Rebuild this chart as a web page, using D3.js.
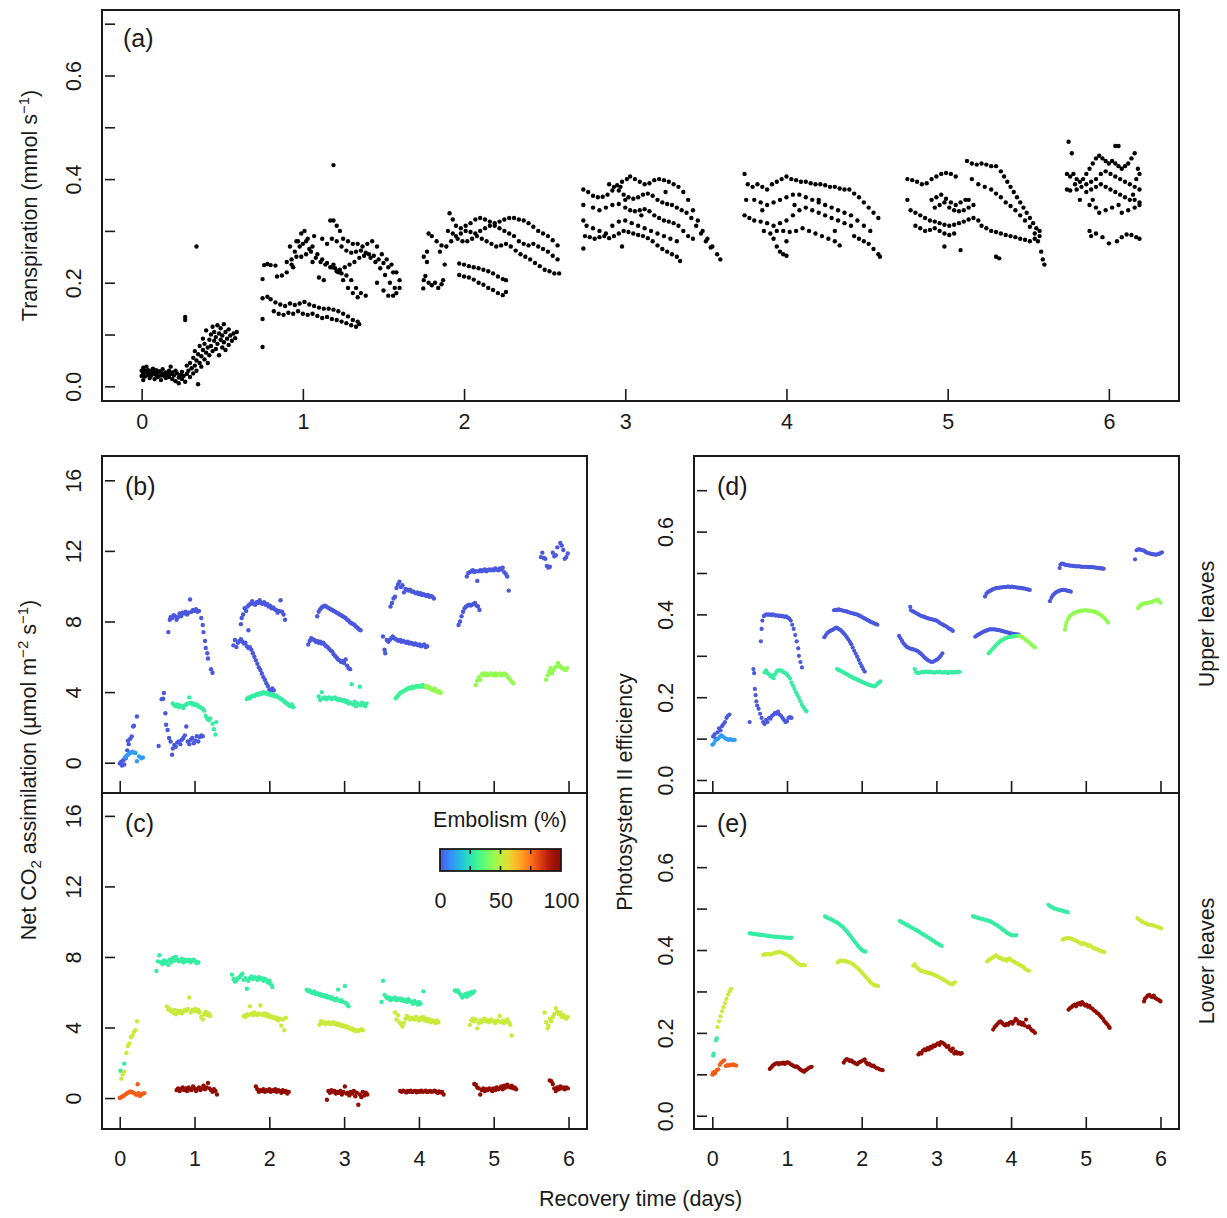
<!DOCTYPE html>
<html>
<head>
<meta charset="utf-8">
<script src="https://cdn.jsdelivr.net/npm/d3@7"></script>
<style>
  body { margin: 0; background: #fff; }
  text { font-family: "Liberation Sans", Arial, Helvetica, sans-serif; fill: #1a1a1a; }
</style>
</head>
<body>
<svg id="chart" width="1227" height="1218"></svg>
<script>
// ---- data (days since rewatering, value) ----
const dayTicks = [0, 1, 2, 3, 4, 5, 6];
const transpTicks = [0, 0.1, 0.2, 0.3, 0.4, 0.5, 0.6, 0.7];
const assimTicks = [0, 4, 8, 12, 16];
const psiiTicks = [0, 0.1, 0.2, 0.3, 0.4, 0.5, 0.6, 0.7];
const embTicks = [0, 50, 100];

const transpDay0 = [
  [0.00,0.030],[0.00,0.020],[0.01,0.036],[0.01,0.025],[0.01,0.012],[0.02,0.030],[0.02,0.019],[0.03,0.027],[0.03,0.038],[0.04,0.022],
  [0.04,0.031],[0.05,0.026],[0.05,0.016],[0.06,0.030],[0.06,0.021],[0.07,0.034],[0.07,0.024],[0.08,0.027],[0.08,0.014],[0.09,0.022],
  [0.09,0.031],[0.10,0.026],[0.10,0.018],[0.11,0.029],[0.12,0.021],[0.12,0.012],[0.13,0.025],[0.13,0.033],[0.14,0.020],[0.15,0.027],
  [0.15,0.016],[0.16,0.023],[0.17,0.030],[0.17,0.018],[0.18,0.024],[0.18,0.038],[0.19,0.014],[0.19,0.027],[0.20,0.021],[0.21,0.030],
  [0.21,0.010],[0.22,0.025],[0.23,0.017],[0.23,0.006],[0.24,0.022],[0.25,0.028],[0.25,0.014],[0.26,0.020],[0.27,0.009],
  [0.28,0.024],[0.28,0.040],[0.29,0.030],[0.30,0.018],[0.30,0.045],[0.31,0.035],[0.32,0.025],[0.32,0.055],[0.33,0.040],[0.33,0.068],
  [0.34,0.030],[0.34,0.050],[0.35,0.062],[0.35,0.004],[0.36,0.045],[0.36,0.078],[0.37,0.058],[0.37,0.038],[0.38,0.070],[0.38,0.092],
  [0.39,0.052],[0.39,0.082],[0.40,0.065],[0.40,0.108],[0.41,0.075],[0.41,0.045],[0.42,0.090],[0.42,0.060],[0.43,0.100],[0.43,0.078],
  [0.44,0.115],[0.44,0.068],[0.45,0.088],[0.45,0.105],[0.46,0.072],[0.46,0.095],[0.47,0.118],[0.47,0.082],[0.48,0.102],[0.48,0.060],
  [0.49,0.090],[0.49,0.112],[0.50,0.075],[0.50,0.098],[0.51,0.120],[0.51,0.085],[0.52,0.105],[0.52,0.070],[0.53,0.092],[0.54,0.110],
  [0.54,0.080],[0.55,0.098],[0.56,0.088],[0.57,0.102],[0.58,0.093],[0.59,0.105],
  [0.34,0.270],[0.27,0.134],[0.27,0.128]
];
const transpDay1 = [
  [0.75,0.076],[0.75,0.207],[1.19,0.427],[0.75,0.170],[0.75,0.130],[0.76,0.234],[0.78,0.236],[0.80,0.234],[0.83,0.233],
  [0.78,0.173],[0.80,0.168],[0.83,0.162],[0.86,0.158],[0.89,0.155],[0.92,0.160],[0.95,0.157],[0.98,0.160],[1.01,0.163],[1.04,0.158],
  [1.07,0.155],[1.10,0.152],[1.13,0.150],[1.16,0.150],[1.19,0.148],[1.22,0.145],[1.25,0.140],[1.28,0.135],[1.31,0.128],[1.34,0.125],
  [0.82,0.145],[0.85,0.140],[0.88,0.138],[0.91,0.142],[0.94,0.140],[0.97,0.145],[1.00,0.140],[1.03,0.138],[1.06,0.140],[1.09,0.136],
  [1.12,0.132],[1.15,0.134],[1.18,0.130],[1.21,0.128],[1.24,0.125],[1.27,0.122],[1.30,0.118],[1.33,0.115],[1.35,0.120],
  [0.84,0.212],[0.87,0.214],[0.90,0.220],[0.93,0.235],[0.95,0.260],[0.97,0.280],[0.99,0.295],[1.01,0.300],[1.03,0.285],[1.06,0.270],
  [1.09,0.255],[1.12,0.245],[1.15,0.238],[1.18,0.230],[1.21,0.222],[1.24,0.218],[1.27,0.214],[1.30,0.205],[1.33,0.190],[1.36,0.180],[1.39,0.175],
  [0.90,0.240],[0.93,0.245],[0.96,0.250],[0.99,0.250],[1.02,0.255],[1.05,0.260],[1.08,0.248],[1.11,0.240],[1.14,0.235],[1.17,0.230],
  [1.20,0.228],[1.23,0.225],[1.26,0.230],[1.29,0.235],[1.32,0.240],[1.35,0.248],[1.38,0.252],[1.41,0.255],[1.44,0.252],[1.47,0.245],
  [1.50,0.238],[1.53,0.230],[1.56,0.220],
  [1.17,0.320],[1.19,0.320],[1.21,0.310],[1.23,0.300],[1.25,0.285],[1.28,0.280],[1.31,0.275],[1.34,0.275],[1.37,0.270],[1.40,0.275],
  [1.43,0.280],[1.46,0.270],[1.49,0.255],[1.52,0.245],[1.55,0.235],[1.58,0.220],[1.60,0.205],
  [1.18,0.285],[1.21,0.280],[1.24,0.270],[1.27,0.262],[1.30,0.258],[1.33,0.260],[1.36,0.262],[1.39,0.258],[1.42,0.248],[1.45,0.240],
  [1.48,0.228],[1.51,0.215],[1.54,0.200],[1.57,0.190],[1.60,0.190],
  [1.19,0.235],[1.22,0.220],[1.25,0.205],[1.28,0.190],[1.31,0.180],[1.34,0.172],[1.46,0.200],[1.50,0.185],[1.53,0.175],[1.56,0.175],[1.58,0.180],
  [0.96,0.280],[0.98,0.270],[1.00,0.275],[1.02,0.280],[1.04,0.265],[1.06,0.240],[0.94,0.230],[1.10,0.210],[1.13,0.205],[0.92,0.270],
  [1.07,0.290],[1.12,0.285],[1.15,0.275]
];
const transpDay2 = [
  [1.91,0.334],[1.93,0.322],[1.95,0.310],[1.98,0.305],[2.01,0.310],[2.04,0.315],[2.07,0.322],[2.10,0.325],[2.13,0.322],[2.16,0.318],
  [2.19,0.315],[2.22,0.318],[2.25,0.322],[2.28,0.325],[2.31,0.325],[2.34,0.322],[2.37,0.320],[2.40,0.315],[2.43,0.308],[2.46,0.300],
  [2.49,0.295],[2.52,0.290],[2.55,0.282],[2.58,0.272],
  [1.75,0.250],[1.77,0.260],[1.78,0.295],[1.80,0.290],[1.83,0.280],[1.86,0.272],[1.89,0.270],[1.92,0.280],[1.95,0.290],[1.98,0.295],
  [2.01,0.300],[2.04,0.298],[2.07,0.295],[2.10,0.300],[2.13,0.305],[2.16,0.310],[2.19,0.310],[2.22,0.305],[2.25,0.300],[2.28,0.295],
  [2.31,0.290],[2.34,0.280],[2.37,0.275],[2.40,0.272],[2.43,0.275],[2.46,0.270],[2.49,0.265],[2.52,0.260],[2.55,0.252],[2.58,0.245],
  [1.90,0.300],[1.93,0.295],[1.96,0.285],[1.99,0.280],[2.02,0.280],[2.05,0.285],[2.08,0.290],[2.11,0.285],[2.14,0.280],[2.17,0.275],
  [2.20,0.270],[2.23,0.272],[2.26,0.275],[2.29,0.270],[2.32,0.262],[2.35,0.255],[2.38,0.250],[2.41,0.245],[2.44,0.238],[2.47,0.232],
  [2.50,0.225],[2.53,0.222],[2.56,0.218],[2.59,0.218],
  [1.97,0.237],[2.00,0.235],[2.03,0.232],[2.06,0.230],[2.09,0.228],[2.12,0.225],[2.15,0.222],[2.18,0.218],[2.21,0.212],[2.24,0.207],[2.26,0.205],
  [1.97,0.215],[2.00,0.212],[2.03,0.210],[2.06,0.206],[2.09,0.200],[2.12,0.196],[2.15,0.190],[2.18,0.186],[2.21,0.180],[2.24,0.176],[2.26,0.182],
  [1.747,0.189],[1.75,0.205],[1.76,0.213],[1.78,0.200],[1.80,0.195],[1.82,0.200],[1.84,0.190],[1.86,0.197],[1.87,0.205],[1.77,0.240],
  [1.85,0.260],[1.88,0.235]
];
const transpDay3 = [
  [2.74,0.380],[2.77,0.375],[2.80,0.368],[2.83,0.365],[2.86,0.366],[2.89,0.370],[2.92,0.378],[2.95,0.388],[2.98,0.395],[3.01,0.400],
  [3.03,0.405],[3.06,0.400],[3.09,0.395],[3.12,0.390],[3.15,0.392],[3.18,0.398],[3.21,0.400],[3.24,0.398],[3.27,0.395],[3.30,0.390],
  [3.33,0.385],[3.36,0.375],[3.39,0.360],[3.42,0.340],[3.45,0.320],[3.48,0.300],[3.51,0.285],[3.54,0.270],[3.57,0.255],[3.59,0.245],
  [2.90,0.390],[2.93,0.385],[2.96,0.378],[2.99,0.370],[3.02,0.365],[3.05,0.362],[3.08,0.365],[3.11,0.370],[3.14,0.372],[3.17,0.368],
  [3.20,0.360],[3.23,0.355],[3.26,0.352],[3.29,0.350],[3.32,0.345],[3.35,0.340],[3.38,0.335],[3.41,0.325],[3.44,0.310],[3.47,0.295],
  [3.50,0.280],[3.53,0.268],
  [2.80,0.345],[2.84,0.340],[2.88,0.345],[2.92,0.350],[2.96,0.352],[3.00,0.345],[3.03,0.340],[3.06,0.338],[3.09,0.340],[3.12,0.342],
  [3.15,0.338],[3.18,0.330],[3.21,0.325],[3.24,0.320],[3.27,0.318],[3.30,0.315],[3.33,0.310],[3.36,0.300],[3.39,0.290],[3.42,0.285],
  [2.74,0.266],[2.75,0.290],[2.78,0.288],[2.81,0.285],[2.84,0.288],[2.87,0.290],[2.90,0.286],[2.93,0.290],[2.96,0.295],[2.99,0.300],
  [3.02,0.298],[3.05,0.295],[3.08,0.292],[3.11,0.290],[3.14,0.286],[3.17,0.280],[3.20,0.272],[3.23,0.265],[3.26,0.260],[3.29,0.255],
  [3.32,0.250],[3.34,0.242],
  [2.76,0.310],[2.80,0.305],[2.84,0.300],[2.88,0.295],[2.92,0.310],[2.96,0.318],[3.00,0.320],[3.04,0.315],[3.08,0.310],[3.12,0.305],
  [3.16,0.300],[3.20,0.295],[3.24,0.290],[3.28,0.285],[3.32,0.280],
  [2.74,0.350],[2.74,0.320],[3.00,0.360],[2.97,0.385],[3.25,0.375],[3.10,0.330],[2.98,0.270]
];
const transpDay4 = [
  [3.74,0.410],[3.76,0.390],[3.79,0.385],[3.82,0.390],[3.85,0.385],[3.88,0.380],[3.91,0.390],[3.94,0.395],[3.97,0.400],[4.00,0.405],
  [4.03,0.400],[4.06,0.398],[4.09,0.395],[4.12,0.395],[4.15,0.392],[4.18,0.390],[4.21,0.390],[4.24,0.388],[4.27,0.385],[4.30,0.385],
  [4.33,0.382],[4.36,0.380],[4.39,0.380],[4.42,0.372],[4.45,0.365],[4.48,0.355],[4.51,0.345],[4.54,0.335],[4.57,0.325],
  [3.80,0.360],[3.84,0.355],[3.88,0.350],[3.92,0.355],[3.96,0.360],[4.00,0.365],[4.04,0.370],[4.08,0.370],[4.12,0.365],[4.16,0.360],
  [4.20,0.355],[4.24,0.350],[4.28,0.345],[4.32,0.340],[4.36,0.335],[4.40,0.330],[4.44,0.320],[4.48,0.310],[4.52,0.300],
  [3.74,0.330],[3.77,0.325],[3.80,0.320],[3.84,0.318],[3.88,0.315],[3.92,0.310],[3.96,0.315],[4.00,0.320],[4.04,0.330],[4.08,0.340],
  [4.12,0.345],[4.16,0.340],[4.20,0.335],[4.24,0.330],[4.28,0.325],[4.32,0.320],[4.36,0.315],[4.40,0.310],
  [3.86,0.300],[3.90,0.295],[3.94,0.300],[3.98,0.300],[4.02,0.298],[4.06,0.300],[4.10,0.305],[4.14,0.300],[4.18,0.295],[4.22,0.290],
  [4.26,0.285],[4.30,0.280],[4.33,0.272],
  [3.92,0.285],[3.94,0.270],[3.96,0.260],[3.98,0.255],[4.00,0.252],[4.42,0.290],[4.45,0.285],[4.48,0.280],[4.51,0.275],[4.54,0.265],
  [4.57,0.255],[4.58,0.250],
  [3.75,0.360],[3.85,0.340],[4.00,0.280],[4.05,0.350],[4.20,0.360],[4.30,0.300]
];
const transpDay5 = [
  [4.75,0.400],[4.78,0.398],[4.81,0.395],[4.84,0.390],[4.87,0.392],[4.90,0.400],[4.93,0.405],[4.96,0.410],[4.99,0.412],[5.02,0.410],[5.05,0.405],
  [5.12,0.435],[5.15,0.430],[5.18,0.428],[5.21,0.430],[5.24,0.428],[5.27,0.425],[5.30,0.425],[5.33,0.415],[5.35,0.405],[5.37,0.395],
  [5.39,0.385],[5.41,0.375],[5.43,0.365],[5.45,0.355],[5.47,0.345],[5.49,0.335],[5.51,0.325],[5.53,0.315],[5.55,0.305],[5.57,0.300],
  [5.15,0.400],[5.19,0.390],[5.23,0.385],[5.27,0.380],[5.30,0.372],[5.33,0.365],[5.36,0.355],[5.39,0.348],[5.42,0.340],[5.45,0.330],
  [5.48,0.320],[5.51,0.308],[5.54,0.295],[5.56,0.280],[5.58,0.260],[5.59,0.245],[5.60,0.235],
  [4.90,0.360],[4.93,0.365],[4.96,0.370],[4.99,0.362],[5.02,0.355],[5.05,0.350],[5.08,0.355],[5.11,0.360],[4.92,0.345],[4.95,0.350],
  [4.98,0.355],[5.01,0.345],[5.04,0.340],[5.07,0.338],[5.10,0.340],[5.13,0.345],[5.16,0.350],
  [4.75,0.360],[4.77,0.340],[4.80,0.335],[4.83,0.330],[4.86,0.325],[4.89,0.320],[4.92,0.318],[4.95,0.315],[4.98,0.312],[5.01,0.310],
  [5.04,0.312],[5.07,0.315],[5.10,0.318],[5.13,0.322],[5.16,0.325],[5.19,0.320],
  [4.80,0.310],[4.83,0.305],[4.86,0.300],[4.89,0.302],[4.92,0.305],[4.95,0.300],[4.98,0.295],[5.01,0.292],[5.04,0.295],[5.21,0.310],
  [5.24,0.305],[5.27,0.300],[5.30,0.298],[5.33,0.295],[5.36,0.292],[5.39,0.290],[5.42,0.288],[5.45,0.285],[5.48,0.283],[5.51,0.280],
  [5.54,0.285],[5.57,0.290],
  [4.98,0.270],[5.08,0.263],[5.30,0.250],[5.32,0.247],[5.13,0.360]
];
const transpDay6 = [
  [5.75,0.472],[5.77,0.450],[5.74,0.410],[5.76,0.405],[5.78,0.410],[5.80,0.400],[5.82,0.395],[5.84,0.400],[5.86,0.410],[5.88,0.420],
  [5.90,0.430],[5.92,0.440],[5.94,0.445],[5.96,0.440],[5.98,0.435],[6.00,0.430],[6.02,0.435],[6.04,0.430],[6.06,0.425],[6.08,0.420],
  [6.10,0.425],[6.12,0.430],[6.14,0.440],[6.16,0.450],[6.18,0.420],[6.04,0.464],[6.06,0.464],
  [5.80,0.380],[5.83,0.385],[5.86,0.390],[5.89,0.395],[5.92,0.400],[5.95,0.410],[5.98,0.415],[6.01,0.410],[6.04,0.405],[6.07,0.400],
  [6.10,0.395],[6.13,0.390],[6.16,0.385],[6.19,0.380],
  [5.86,0.375],[5.89,0.380],[5.92,0.385],[5.95,0.390],[5.98,0.385],[6.01,0.380],[6.04,0.375],[6.07,0.370],[6.10,0.365],[6.13,0.360],
  [6.16,0.360],[6.19,0.355],
  [5.88,0.350],[5.90,0.360],[5.92,0.345],[5.94,0.335],[5.98,0.340],[6.02,0.345],[6.06,0.350],[6.08,0.335],[6.12,0.340],[6.16,0.345],[6.19,0.350],
  [5.88,0.300],[5.89,0.290],[5.92,0.295],[5.96,0.288],[6.00,0.276],[6.05,0.280],[6.08,0.288],[6.11,0.293],[6.14,0.292],[6.17,0.288],[6.19,0.285],
  [5.74,0.380],[5.76,0.378],[5.79,0.390],[5.82,0.360],[6.17,0.400],[6.19,0.410],[6.15,0.370]
];

// net CO2 assimilation, upper leaves (panel b); emb = embolism (%)
const upperAssim = [
  { emb: 0, pts: [[0.00,-0.04],[0.02,0.05],[0.03,-0.16],[0.05,0.15],[0.06,-0.10],[0.08,0.25],[0.10,0.70],[0.11,1.25],[0.12,1.05],[0.14,1.35],[0.16,1.48],[0.18,2.05],[0.19,2.10],[0.23,2.62]] },
  { emb: 11, pts: [[0.07,0.30],[0.09,0.40],[0.11,0.45],[0.13,0.52],[0.15,0.58],[0.17,0.62],[0.19,0.58],[0.21,0.55],[0.23,0.08],[0.26,0.35],[0.29,0.25],[0.31,0.30]] },
  { emb: 0, pts: [[0.52,0.95],[0.56,3.60],[0.58,3.62],[0.59,3.95],[0.61,2.80],[0.62,2.15],[0.64,1.85],[0.66,1.40],[0.68,1.20],[0.70,0.45],[0.71,0.80],[0.73,1.00],[0.75,0.90],[0.77,1.15],[0.79,1.20],[0.81,1.05],[0.83,1.30],[0.85,1.40],[0.87,1.55],[0.89,2.05],[0.91,1.20],[0.93,1.05],[0.95,1.30],[0.97,1.40],[0.99,1.10],[1.01,1.25],[1.03,1.50],[1.05,1.20],[1.07,1.45],[1.09,1.55],[1.11,1.50]] },
  { emb: 0, pts: [[0.65,7.40],[0.67,8.10],[0.68,8.25],[0.70,8.20],[0.72,8.35],[0.74,8.30],[0.76,8.10],[0.78,8.25],[0.80,8.45],[0.82,8.30],[0.84,8.50],[0.86,8.45],[0.88,8.55],[0.90,8.40],[0.92,8.50],[0.94,9.25],[0.96,8.55],[0.98,8.65],[1.00,8.60],[1.02,8.70],[1.04,8.55],[1.06,8.60],[1.09,8.20],[1.11,7.80],[1.12,7.40],[1.14,6.90],[1.15,6.50],[1.17,6.20],[1.18,5.90],[1.22,5.30],[1.24,5.10]] },
  { emb: 28, pts: [[0.71,3.36],[0.73,3.25],[0.75,3.20],[0.77,3.30],[0.79,3.15],[0.81,3.25],[0.83,3.20],[0.85,3.10],[0.87,3.25],[0.89,3.30],[0.91,3.35],[0.93,3.70],[0.95,3.40],[0.97,3.30],[0.99,3.35],[1.01,3.25],[1.03,3.30],[1.05,3.20],[1.07,3.15],[1.09,3.10],[1.11,3.05],[1.13,2.95],[1.15,2.65],[1.17,2.50],[1.19,2.40],[1.21,2.50],[1.24,2.20],[1.26,1.90],[1.28,1.60],[1.29,2.30]] },
  { emb: 0, pts: [[1.62,7.85],[1.63,8.20],[1.65,8.40],[1.67,8.75],[1.69,8.60],[1.71,8.85],[1.73,8.95],[1.72,7.50],[1.75,9.00],[1.77,9.15],[1.79,9.00],[1.81,8.95],[1.83,9.10],[1.85,9.05],[1.87,9.20],[1.89,9.05],[1.91,9.00],[1.93,9.10],[1.95,8.95],[1.97,9.00],[1.99,8.85],[2.01,8.90],[2.03,8.75],[2.05,8.80],[2.07,8.70],[2.09,8.65],[2.11,8.50],[2.13,8.60],[2.15,9.20],[2.17,8.55],[2.19,8.40],[2.21,8.10]] },
  { emb: 0, pts: [[1.52,6.65],[1.54,6.95],[1.56,6.55],[1.58,6.80],[1.60,6.90],[1.62,7.00],[1.64,6.85],[1.66,6.75],[1.68,6.80],[1.70,6.60],[1.72,6.50],[1.74,6.55],[1.76,6.40],[1.78,6.20],[1.80,6.00],[1.82,5.80],[1.84,5.60],[1.86,5.40],[1.88,5.25],[1.90,5.05],[1.92,4.85],[1.94,4.70],[1.96,4.50],[1.98,4.35],[2.00,4.15],[2.02,4.00],[2.04,4.20],[2.06,4.10]] },
  { emb: 28, pts: [[1.70,3.60],[1.72,3.70],[1.74,3.65],[1.76,3.75],[1.78,3.80],[1.80,3.78],[1.82,3.85],[1.84,3.90],[1.86,3.85],[1.88,3.95],[1.90,3.90],[1.92,4.00],[1.94,3.95],[1.96,3.90],[1.98,3.95],[2.00,3.85],[2.02,3.90],[2.04,3.80],[2.06,3.85],[2.08,3.75],[2.10,3.80],[2.12,3.70],[2.14,3.65],[2.16,3.60],[2.18,3.55],[2.20,3.45],[2.22,3.40],[2.24,3.35],[2.26,3.25],[2.28,3.20],[2.30,3.30],[2.32,3.15]] },
  { emb: 0, pts: [[2.64,8.30],[2.66,8.55],[2.68,8.70],[2.70,8.80],[2.72,8.85],[2.74,8.90],[2.76,8.85],[2.78,8.80],[2.80,8.75],[2.82,8.70],[2.84,8.65],[2.86,8.60],[2.88,8.55],[2.90,8.50],[2.92,8.45],[2.94,8.40],[2.96,8.35],[2.98,8.30],[3.00,8.25],[3.02,8.20],[3.04,8.10],[3.06,8.05],[3.08,7.95],[3.10,7.90],[3.12,7.85],[3.14,7.80],[3.16,7.70],[3.18,7.65],[3.20,7.55],[3.22,7.50]] },
  { emb: 0, pts: [[2.52,6.70],[2.54,6.90],[2.56,7.05],[2.58,7.00],[2.60,6.95],[2.62,6.85],[2.64,6.90],[2.66,6.80],[2.68,6.85],[2.70,6.75],[2.72,6.80],[2.74,6.70],[2.76,6.60],[2.78,6.55],[2.80,6.45],[2.82,6.35],[2.84,6.30],[2.86,6.15],[2.88,6.05],[2.90,5.95],[2.92,5.85],[2.94,5.80],[2.96,5.70],[2.98,5.75],[3.00,5.65],[3.02,5.85],[3.04,5.50],[3.06,5.35],[3.08,5.30]] },
  { emb: 28, pts: [[2.66,3.75],[2.68,3.55],[2.70,4.00],[2.72,3.65],[2.74,3.70],[2.76,3.60],[2.78,3.65],[2.80,3.70],[2.82,3.65],[2.84,3.60],[2.86,3.65],[2.88,3.70],[2.90,3.60],[2.92,3.55],[2.94,3.60],[2.96,3.55],[2.98,3.50],[3.00,3.55],[3.02,3.45],[3.04,3.50],[3.06,3.35],[3.08,3.40],[3.10,4.45],[3.12,3.30],[3.14,3.45],[3.16,3.20],[3.18,3.35],[3.21,4.30],[3.22,3.25],[3.24,3.40],[3.26,3.30],[3.28,3.20],[3.30,3.35]] },
  { emb: 0, pts: [[3.62,8.85],[3.64,9.05],[3.66,9.30],[3.68,9.40],[3.70,9.90],[3.72,10.10],[3.74,10.25],[3.76,9.95],[3.78,10.05],[3.80,9.65],[3.82,9.85],[3.84,9.80],[3.86,9.75],[3.88,9.80],[3.90,9.70],[3.92,9.70],[3.94,9.65],[3.96,9.60],[3.98,9.65],[4.00,9.55],[4.02,9.60],[4.04,9.50],[4.06,9.55],[4.08,9.50],[4.10,9.45],[4.12,9.50],[4.14,9.40],[4.16,9.45],[4.18,9.40],[4.20,9.30]] },
  { emb: 0, pts: [[3.52,7.15],[3.54,6.40],[3.55,6.20],[3.57,6.95],[3.59,6.85],[3.61,6.95],[3.63,7.05],[3.65,7.15],[3.67,7.05],[3.69,7.00],[3.71,6.95],[3.73,6.90],[3.75,6.95],[3.77,6.85],[3.79,6.90],[3.81,6.85],[3.83,6.80],[3.85,6.85],[3.87,6.75],[3.89,6.80],[3.91,6.75],[3.93,6.70],[3.95,6.75],[3.97,6.70],[3.99,6.65],[4.01,6.70],[4.03,6.60],[4.05,6.65],[4.07,6.70],[4.09,6.55],[4.11,6.60]] },
  { emb: 30, pts: [[3.69,3.65],[3.71,3.75],[3.73,3.85],[3.75,3.95],[3.77,4.00],[3.79,4.05],[3.81,4.10],[3.83,4.15],[3.85,4.20],[3.87,4.25],[3.89,4.20],[3.91,4.30],[3.93,4.25],[3.95,4.30],[3.97,4.35],[3.99,4.30],[4.01,4.35],[4.03,4.30],[4.05,4.40],[4.07,4.30]] },
  { emb: 44, pts: [[4.09,4.35],[4.11,4.25],[4.13,4.30],[4.15,4.20],[4.17,4.15],[4.19,4.10],[4.21,4.20],[4.23,4.05],[4.25,4.00],[4.27,4.05],[4.29,3.95]] },
  { emb: 0, pts: [[4.64,10.55],[4.66,10.75],[4.68,10.80],[4.70,10.85],[4.72,10.90],[4.74,10.80],[4.76,10.85],[4.78,10.30],[4.80,10.85],[4.82,10.90],[4.84,10.85],[4.86,10.90],[4.88,10.95],[4.90,10.85],[4.92,10.90],[4.94,10.95],[4.96,10.90],[4.98,10.95],[5.00,10.90],[5.02,11.00],[5.04,10.95],[5.06,10.90],[5.08,11.00],[5.10,10.95],[5.12,11.05],[5.14,10.80],[5.16,10.70],[5.18,10.55],[5.20,9.75]] },
  { emb: 0, pts: [[4.53,7.80],[4.55,8.00],[4.57,8.30],[4.59,8.55],[4.61,8.75],[4.63,8.85],[4.65,8.90],[4.67,8.95],[4.69,8.90],[4.71,8.95],[4.73,9.00],[4.75,9.05],[4.77,8.90],[4.79,8.85],[4.81,8.65]] },
  { emb: 44, pts: [[4.76,4.40],[4.78,4.65],[4.80,4.85],[4.82,4.70],[4.84,5.00],[4.86,5.05],[4.88,4.95],[4.90,5.05],[4.92,4.95],[4.94,5.00],[4.96,5.05],[4.98,5.00],[5.00,4.95],[5.02,5.05],[5.04,4.95],[5.06,5.00],[5.08,5.05],[5.10,4.95],[5.12,5.00],[5.14,5.05],[5.16,5.00],[5.18,4.90],[5.20,4.80],[5.22,4.70],[5.24,4.60],[5.26,4.50]] },
  { emb: 0, pts: [[5.63,11.65],[5.65,11.90],[5.67,11.60],[5.69,11.55],[5.71,11.15],[5.73,11.05],[5.75,11.10],[5.79,11.90],[5.81,11.70],[5.83,11.75],[5.85,12.20],[5.89,12.45],[5.91,12.30],[5.93,12.05],[5.95,11.55],[5.97,11.65],[5.99,11.85]] },
  { emb: 44, pts: [[5.70,4.70],[5.72,4.95],[5.74,5.15],[5.76,5.35],[5.78,5.05],[5.80,5.25],[5.82,5.40],[5.84,5.45],[5.86,5.65],[5.88,5.50],[5.90,5.40],[5.92,5.35],[5.94,5.30],[5.96,5.25],[5.98,5.35]] }
];

// net CO2 assimilation, lower leaves (panel c)
const lowerAssim = [
  { emb: 78, pts: [[0.00,0.00],[0.02,0.05],[0.04,0.10],[0.06,0.15],[0.08,0.22],[0.10,0.28],[0.12,0.32],[0.14,0.38],[0.16,0.35],[0.18,0.30],[0.20,0.25],[0.22,0.18],[0.24,0.78],[0.25,0.28],[0.27,0.12],[0.29,0.20],[0.31,0.25],[0.33,0.28]] },
  { emb: 28, pts: [[0.01,1.55],[0.06,1.95]] },
  { emb: 52, pts: [[0.02,1.10],[0.04,1.35],[0.06,1.50],[0.09,2.55],[0.11,2.95],[0.13,3.10],[0.15,3.45],[0.17,3.55],[0.19,3.75],[0.21,3.85],[0.23,4.35]] },
  { emb: 28, pts: [[0.49,7.20],[0.51,7.75],[0.53,8.10],[0.55,7.70],[0.57,7.60],[0.59,7.80],[0.61,7.65],[0.63,7.75],[0.65,7.55],[0.67,7.85],[0.69,7.70],[0.71,7.95],[0.73,7.80],[0.75,8.00],[0.77,7.85],[0.79,7.75],[0.81,7.80],[0.83,7.90],[0.85,7.70],[0.87,7.85],[0.89,7.75],[0.91,7.80],[0.93,7.85],[0.95,7.70],[0.97,7.80],[0.99,7.85],[1.01,7.75],[1.03,7.65],[1.05,7.70]] },
  { emb: 52, pts: [[0.63,5.20],[0.65,5.00],[0.67,5.05],[0.69,4.90],[0.71,4.85],[0.73,5.00],[0.75,4.75],[0.77,4.95],[0.79,4.85],[0.81,4.95],[0.83,4.80],[0.85,4.90],[0.87,5.00],[0.89,4.95],[0.91,5.05],[0.93,5.70],[0.95,4.85],[0.97,5.00],[0.99,4.95],[1.01,5.05],[1.03,4.90],[1.05,5.00],[1.07,4.85],[1.09,4.60],[1.11,4.45],[1.13,4.75],[1.15,4.90],[1.17,4.70],[1.19,4.80],[1.21,4.65]] },
  { emb: 98, pts: [[0.76,0.45],[0.78,0.55],[0.80,0.40],[0.82,0.50],[0.84,0.60],[0.86,0.45],[0.88,0.55],[0.90,0.40],[0.92,0.60],[0.94,0.50],[0.96,0.45],[0.98,0.65],[1.00,0.55],[1.02,0.40],[1.04,0.50],[1.06,0.60],[1.08,0.45],[1.10,0.55],[1.12,0.70],[1.14,0.50],[1.16,0.60],[1.18,0.85],[1.20,0.55],[1.22,0.45],[1.24,0.35],[1.26,0.50],[1.28,0.40],[1.30,0.20]] },
  { emb: 28, pts: [[1.50,7.00],[1.52,6.75],[1.54,6.60],[1.56,6.65],[1.58,6.80],[1.60,6.85],[1.62,6.95],[1.64,7.05],[1.66,6.70],[1.68,6.80],[1.70,6.20],[1.72,6.65],[1.74,6.80],[1.76,6.90],[1.78,6.75],[1.80,6.85],[1.82,6.80],[1.84,6.70],[1.86,6.85],[1.88,6.75],[1.90,6.80],[1.92,6.65],[1.94,6.75],[1.96,6.70],[1.98,6.55],[2.00,6.65],[2.02,6.45],[2.04,6.30]] },
  { emb: 52, pts: [[1.66,4.65],[1.68,4.60],[1.70,4.75],[1.72,4.70],[1.74,5.20],[1.76,4.80],[1.78,4.70],[1.80,4.85],[1.82,4.75],[1.84,4.70],[1.86,4.80],[1.88,5.25],[1.90,4.75],[1.92,4.70],[1.94,4.80],[1.96,4.65],[1.98,4.75],[2.00,4.60],[2.02,4.65],[2.04,4.55],[2.06,4.60],[2.08,4.50],[2.10,4.55],[2.12,4.40],[2.14,4.50],[2.16,4.10],[2.18,4.45],[2.20,3.85],[2.22,4.55]] },
  { emb: 98, pts: [[1.82,0.65],[1.84,0.50],[1.86,0.35],[1.88,0.45],[1.90,0.40],[1.92,0.50],[1.94,0.35],[1.96,0.45],[1.98,0.40],[2.00,0.50],[2.02,0.35],[2.04,0.45],[2.06,0.40],[2.08,0.50],[2.10,0.35],[2.12,0.45],[2.14,0.40],[2.16,0.30],[2.18,0.45],[2.20,0.35],[2.22,0.40],[2.24,0.25],[2.26,0.35]] },
  { emb: 28, pts: [[2.50,6.15],[2.52,6.05],[2.54,6.10],[2.56,6.00],[2.58,5.95],[2.60,6.05],[2.62,5.90],[2.64,5.95],[2.66,5.85],[2.68,5.90],[2.70,5.80],[2.72,5.85],[2.74,5.75],[2.76,5.80],[2.78,5.70],[2.80,5.75],[2.82,5.65],[2.84,5.70],[2.86,5.60],[2.88,5.55],[2.90,5.65],[2.92,6.15],[2.94,5.50],[2.96,5.55],[2.98,5.45],[3.01,6.35],[3.02,5.40],[3.04,5.30],[3.06,5.20]] },
  { emb: 52, pts: [[2.67,4.15],[2.69,4.35],[2.71,4.25],[2.73,4.30],[2.75,4.20],[2.77,4.25],[2.79,4.30],[2.81,4.20],[2.83,4.25],[2.85,4.30],[2.87,4.20],[2.89,4.25],[2.91,4.15],[2.93,4.20],[2.95,4.10],[2.97,4.15],[2.99,4.05],[3.01,4.10],[3.03,4.00],[3.05,4.05],[3.07,3.95],[3.09,3.90],[3.11,3.95],[3.13,3.85],[3.15,3.80],[3.17,3.85],[3.19,3.80],[3.21,3.85],[3.23,3.90],[3.25,3.85]] },
  { emb: 98, pts: [[2.77,-0.10],[2.79,0.40],[2.81,0.30],[2.83,0.45],[2.85,0.35],[2.87,0.40],[2.89,0.25],[2.91,0.35],[2.93,0.30],[2.95,0.40],[2.97,0.20],[2.99,0.35],[3.01,0.65],[3.03,0.25],[3.05,0.30],[3.07,0.15],[3.09,0.35],[3.11,0.25],[3.13,0.40],[3.15,0.10],[3.17,0.30],[3.19,-0.38],[3.21,0.20],[3.23,0.05],[3.25,0.35],[3.27,0.15],[3.29,0.30],[3.31,0.20]] },
  { emb: 28, pts: [[3.50,5.45],[3.52,6.65],[3.54,5.85],[3.56,5.75],[3.58,5.65],[3.60,5.70],[3.62,5.55],[3.64,5.65],[3.66,5.60],[3.68,5.70],[3.70,5.55],[3.72,5.60],[3.74,5.65],[3.76,5.55],[3.78,5.60],[3.80,5.50],[3.82,5.55],[3.84,5.45],[3.86,5.60],[3.88,5.50],[3.90,5.45],[3.92,5.35],[3.94,5.50],[3.96,5.40],[3.98,5.30],[4.00,5.45],[4.02,5.35],[4.06,6.05]] },
  { emb: 52, pts: [[3.68,4.85],[3.70,4.45],[3.72,4.70],[3.74,4.30],[3.76,4.20],[3.78,4.05],[3.80,4.25],[3.82,4.50],[3.84,4.65],[3.86,4.55],[3.88,4.45],[3.90,4.55],[3.92,4.50],[3.94,4.45],[3.96,4.60],[3.98,4.50],[4.00,4.40],[4.02,4.55],[4.04,4.45],[4.06,4.60],[4.08,4.40],[4.10,4.50],[4.12,4.35],[4.14,4.45],[4.16,4.30],[4.18,4.40],[4.20,4.35],[4.22,4.25],[4.24,4.40],[4.26,4.30]] },
  { emb: 98, pts: [[3.75,0.40],[3.77,0.35],[3.79,0.42],[3.81,0.38],[3.83,0.32],[3.85,0.40],[3.87,0.36],[3.89,0.42],[3.91,0.34],[3.93,0.38],[3.95,0.40],[3.97,0.33],[3.99,0.39],[4.01,0.36],[4.03,0.42],[4.05,0.35],[4.07,0.38],[4.09,0.41],[4.11,0.34],[4.13,0.37],[4.15,0.40],[4.17,0.35],[4.19,0.38],[4.21,0.42],[4.23,0.36],[4.25,0.30],[4.27,0.38],[4.29,0.32],[4.31,0.35],[4.33,0.20]] },
  { emb: 28, pts: [[4.48,6.10],[4.50,6.05],[4.52,6.10],[4.54,5.95],[4.56,5.85],[4.58,5.70],[4.60,5.80],[4.62,5.90],[4.64,5.75],[4.66,5.95],[4.68,5.85],[4.70,6.00],[4.72,5.95],[4.74,6.05]] },
  { emb: 52, pts: [[4.68,4.15],[4.70,4.40],[4.72,4.50],[4.74,4.35],[4.76,4.45],[4.78,3.95],[4.80,4.25],[4.82,4.40],[4.84,4.30],[4.86,4.45],[4.88,4.50],[4.90,4.35],[4.92,4.40],[4.94,4.30],[4.96,4.45],[4.98,4.40],[5.00,4.35],[5.02,4.25],[5.04,4.40],[5.06,4.35],[5.08,4.65],[5.10,4.30],[5.12,4.40],[5.14,4.25],[5.16,4.35],[5.18,4.45],[5.20,4.30],[5.22,4.15],[5.24,3.55]] },
  { emb: 98, pts: [[4.74,0.80],[4.76,0.75],[4.78,0.60],[4.80,0.55],[4.82,0.20],[4.84,0.45],[4.86,0.55],[4.88,0.40],[4.90,0.50],[4.92,0.45],[4.94,0.55],[4.96,0.50],[4.98,0.40],[5.00,0.55],[5.02,0.45],[5.04,0.60],[5.06,0.50],[5.08,0.55],[5.10,0.65],[5.12,0.50],[5.14,0.70],[5.16,0.60],[5.18,0.75],[5.20,0.65],[5.22,0.60],[5.24,0.70],[5.26,0.55],[5.28,0.60],[5.30,0.50]] },
  { emb: 52, pts: [[5.68,4.85],[5.70,4.30],[5.72,3.95],[5.73,4.10],[5.75,4.50],[5.77,4.35],[5.79,4.60],[5.81,4.75],[5.83,5.10],[5.85,4.90],[5.87,4.75],[5.89,4.85],[5.91,4.60],[5.93,4.70],[5.95,4.55],[5.97,4.50],[5.99,4.60]] },
  { emb: 98, pts: [[5.75,1.00],[5.77,0.95],[5.79,0.80],[5.81,0.55],[5.83,0.40],[5.85,0.60],[5.87,0.50],[5.89,0.65],[5.91,0.55],[5.93,0.60],[5.95,0.50],[5.97,0.60],[5.99,0.55]] }
];

// photosystem II efficiency, upper leaves (panel d)
const upperPSII = [
  { emb: 0, pts: [[0.01,0.105],[0.03,0.110],[0.05,0.100],[0.07,0.115],[0.09,0.125],[0.11,0.120],[0.13,0.130],[0.15,0.135],[0.17,0.140],[0.19,0.150],[0.21,0.155],[0.23,0.158]] },
  { emb: 11, pts: [[0.00,0.085],[0.02,0.088],[0.04,0.095],[0.06,0.098],[0.08,0.100],[0.10,0.104],[0.12,0.108],[0.14,0.106],[0.16,0.102],[0.18,0.100],[0.20,0.098],[0.22,0.097],[0.24,0.099],[0.26,0.097],[0.28,0.096],[0.30,0.097]] },
  { emb: 0, pts: [[0.50,0.140],[0.55,0.268],[0.56,0.258],[0.57,0.220],[0.58,0.205],[0.59,0.190],[0.60,0.180],[0.62,0.172],[0.64,0.160],[0.66,0.150],[0.68,0.140],[0.70,0.135],[0.72,0.145],[0.74,0.140],[0.76,0.150],[0.78,0.148],[0.80,0.155],[0.82,0.158],[0.84,0.162],[0.86,0.160],[0.88,0.165],[0.90,0.158],[0.92,0.155],[0.94,0.150],[0.96,0.145],[0.98,0.140],[1.00,0.142],[1.02,0.150],[1.04,0.152],[1.06,0.150]] },
  { emb: 0, pts: [[0.65,0.335],[0.66,0.365],[0.67,0.385],[0.69,0.396],[0.71,0.399],[0.73,0.400],[0.75,0.399],[0.77,0.400],[0.79,0.398],[0.81,0.400],[0.83,0.399],[0.85,0.397],[0.87,0.398],[0.89,0.396],[0.91,0.397],[0.93,0.395],[0.95,0.396],[0.97,0.394],[0.99,0.395],[1.01,0.392],[1.03,0.390],[1.05,0.385],[1.07,0.375],[1.09,0.365],[1.11,0.350],[1.13,0.335],[1.15,0.318],[1.16,0.300],[1.18,0.285],[1.20,0.272]] },
  { emb: 28, pts: [[0.70,0.260],[0.72,0.265],[0.74,0.258],[0.76,0.255],[0.78,0.250],[0.80,0.252],[0.82,0.246],[0.84,0.255],[0.86,0.262],[0.88,0.265],[0.90,0.264],[0.92,0.265],[0.94,0.262],[0.96,0.260],[0.98,0.258],[1.00,0.255],[1.02,0.250],[1.04,0.245],[1.06,0.235],[1.08,0.228],[1.10,0.220],[1.12,0.212],[1.14,0.205],[1.16,0.198],[1.18,0.190],[1.20,0.182],[1.22,0.176],[1.24,0.170],[1.26,0.166]] },
  { emb: 0, pts: [[1.63,0.410],[1.65,0.411],[1.67,0.410],[1.69,0.412],[1.71,0.411],[1.73,0.410],[1.75,0.409],[1.77,0.408],[1.79,0.408],[1.81,0.406],[1.83,0.405],[1.85,0.404],[1.87,0.403],[1.89,0.402],[1.91,0.401],[1.93,0.400],[1.95,0.399],[1.97,0.397],[1.99,0.395],[2.01,0.393],[2.03,0.391],[2.05,0.389],[2.07,0.387],[2.09,0.385],[2.11,0.383],[2.13,0.381],[2.15,0.380],[2.17,0.378],[2.19,0.377],[2.21,0.375]] },
  { emb: 0, pts: [[1.50,0.345],[1.52,0.350],[1.54,0.355],[1.56,0.358],[1.58,0.360],[1.60,0.362],[1.62,0.364],[1.64,0.366],[1.66,0.368],[1.68,0.366],[1.70,0.364],[1.72,0.362],[1.74,0.358],[1.76,0.354],[1.78,0.350],[1.80,0.345],[1.82,0.340],[1.84,0.334],[1.86,0.328],[1.88,0.320],[1.90,0.312],[1.92,0.305],[1.94,0.298],[1.96,0.290],[1.98,0.282],[2.00,0.275],[2.02,0.268],[2.04,0.262]] },
  { emb: 28, pts: [[1.67,0.268],[1.69,0.266],[1.71,0.264],[1.73,0.263],[1.75,0.260],[1.77,0.259],[1.79,0.256],[1.81,0.255],[1.83,0.252],[1.85,0.250],[1.87,0.249],[1.89,0.246],[1.91,0.245],[1.93,0.243],[1.95,0.242],[1.97,0.240],[1.99,0.238],[2.01,0.236],[2.03,0.235],[2.05,0.233],[2.07,0.232],[2.09,0.230],[2.11,0.230],[2.13,0.228],[2.15,0.227],[2.17,0.226],[2.19,0.228],[2.21,0.232],[2.23,0.235],[2.25,0.238]] },
  { emb: 0, pts: [[2.65,0.418],[2.66,0.410],[2.68,0.408],[2.70,0.406],[2.72,0.404],[2.74,0.402],[2.76,0.400],[2.78,0.398],[2.80,0.396],[2.82,0.395],[2.84,0.394],[2.86,0.392],[2.88,0.391],[2.90,0.390],[2.92,0.389],[2.94,0.388],[2.96,0.387],[2.98,0.386],[3.00,0.385],[3.02,0.383],[3.04,0.380],[3.06,0.378],[3.08,0.376],[3.10,0.374],[3.12,0.372],[3.14,0.370],[3.16,0.367],[3.18,0.365],[3.20,0.363],[3.22,0.360]] },
  { emb: 0, pts: [[2.50,0.348],[2.52,0.342],[2.54,0.336],[2.56,0.330],[2.58,0.326],[2.60,0.322],[2.62,0.320],[2.64,0.318],[2.66,0.317],[2.68,0.316],[2.70,0.315],[2.72,0.314],[2.74,0.312],[2.76,0.310],[2.78,0.307],[2.80,0.304],[2.82,0.300],[2.84,0.296],[2.86,0.293],[2.88,0.290],[2.90,0.288],[2.92,0.286],[2.94,0.285],[2.96,0.286],[2.98,0.288],[3.00,0.290],[3.02,0.292],[3.04,0.296],[3.06,0.300],[3.08,0.306]] },
  { emb: 28, pts: [[2.71,0.268],[2.73,0.260],[2.75,0.258],[2.77,0.259],[2.79,0.260],[2.81,0.261],[2.83,0.260],[2.85,0.262],[2.87,0.261],[2.89,0.260],[2.91,0.262],[2.93,0.261],[2.95,0.260],[2.97,0.259],[2.99,0.260],[3.01,0.261],[3.03,0.260],[3.05,0.262],[3.07,0.260],[3.09,0.259],[3.11,0.261],[3.13,0.260],[3.15,0.258],[3.17,0.260],[3.19,0.261],[3.21,0.259],[3.23,0.260],[3.25,0.261],[3.27,0.260],[3.29,0.262],[3.31,0.261]] },
  { emb: 0, pts: [[3.65,0.443],[3.67,0.450],[3.69,0.454],[3.71,0.456],[3.73,0.458],[3.75,0.460],[3.77,0.462],[3.79,0.463],[3.81,0.464],[3.83,0.464],[3.85,0.465],[3.87,0.465],[3.89,0.466],[3.91,0.466],[3.93,0.466],[3.95,0.467],[3.97,0.467],[3.99,0.466],[4.01,0.467],[4.03,0.466],[4.05,0.466],[4.07,0.465],[4.09,0.465],[4.11,0.464],[4.13,0.464],[4.15,0.463],[4.17,0.463],[4.19,0.462],[4.21,0.461],[4.23,0.460],[4.25,0.459]] },
  { emb: 0, pts: [[3.52,0.346],[3.54,0.349],[3.56,0.351],[3.58,0.353],[3.60,0.355],[3.62,0.357],[3.64,0.359],[3.66,0.360],[3.68,0.362],[3.70,0.363],[3.72,0.364],[3.74,0.364],[3.76,0.364],[3.78,0.364],[3.80,0.363],[3.82,0.362],[3.84,0.362],[3.86,0.361],[3.88,0.360],[3.90,0.359],[3.92,0.358],[3.94,0.357],[3.96,0.356],[3.98,0.355],[4.00,0.354],[4.02,0.353],[4.04,0.353],[4.06,0.352],[4.08,0.352],[4.10,0.351]] },
  { emb: 30, pts: [[3.70,0.306],[3.72,0.310],[3.74,0.314],[3.76,0.318],[3.78,0.322],[3.80,0.326],[3.82,0.330],[3.84,0.333],[3.86,0.336],[3.88,0.338],[3.90,0.340],[3.92,0.342],[3.94,0.343],[3.96,0.345],[3.98,0.345],[4.00,0.346],[4.02,0.347],[4.04,0.347],[4.06,0.348],[4.08,0.348]] },
  { emb: 44, pts: [[4.10,0.349],[4.12,0.347],[4.14,0.346],[4.16,0.344],[4.18,0.341],[4.20,0.338],[4.22,0.335],[4.24,0.332],[4.26,0.329],[4.28,0.326],[4.30,0.322],[4.32,0.320]] },
  { emb: 0, pts: [[4.65,0.512],[4.66,0.520],[4.68,0.523],[4.70,0.522],[4.72,0.520],[4.74,0.519],[4.76,0.519],[4.78,0.518],[4.80,0.518],[4.82,0.517],[4.84,0.517],[4.86,0.516],[4.88,0.516],[4.90,0.516],[4.92,0.516],[4.94,0.515],[4.96,0.515],[4.98,0.515],[5.00,0.515],[5.02,0.515],[5.04,0.514],[5.06,0.514],[5.08,0.514],[5.10,0.514],[5.12,0.513],[5.14,0.513],[5.16,0.512],[5.18,0.512],[5.20,0.511],[5.22,0.511],[5.24,0.510]] },
  { emb: 0, pts: [[4.52,0.432],[4.54,0.440],[4.56,0.446],[4.58,0.450],[4.60,0.453],[4.62,0.455],[4.64,0.457],[4.66,0.458],[4.68,0.459],[4.70,0.459],[4.72,0.459],[4.74,0.458],[4.76,0.457],[4.78,0.456],[4.80,0.455]] },
  { emb: 44, pts: [[4.72,0.363],[4.73,0.372],[4.74,0.380],[4.76,0.388],[4.78,0.394],[4.80,0.398],[4.82,0.401],[4.84,0.403],[4.86,0.405],[4.88,0.406],[4.90,0.407],[4.92,0.408],[4.94,0.409],[4.96,0.409],[4.98,0.410],[5.00,0.410],[5.02,0.409],[5.04,0.409],[5.06,0.408],[5.08,0.408],[5.10,0.407],[5.12,0.406],[5.14,0.405],[5.16,0.403],[5.18,0.401],[5.20,0.399],[5.22,0.396],[5.24,0.393],[5.26,0.389],[5.28,0.384],[5.30,0.380]] },
  { emb: 0, pts: [[5.66,0.533],[5.68,0.555],[5.70,0.557],[5.72,0.557],[5.74,0.556],[5.76,0.555],[5.78,0.554],[5.80,0.551],[5.82,0.549],[5.84,0.548],[5.86,0.547],[5.88,0.546],[5.90,0.545],[5.92,0.545],[5.94,0.544],[5.96,0.545],[5.98,0.546],[6.00,0.548],[6.02,0.550]] },
  { emb: 44, pts: [[5.70,0.415],[5.72,0.420],[5.74,0.423],[5.76,0.425],[5.78,0.426],[5.80,0.427],[5.82,0.428],[5.84,0.428],[5.86,0.429],[5.88,0.430],[5.90,0.431],[5.92,0.433],[5.94,0.434],[5.96,0.436],[5.98,0.432],[6.00,0.428]] }
];

// photosystem II efficiency, lower leaves (panel e)
const lowerPSII = [
  { emb: 78, pts: [[0.00,0.099],[0.01,0.104],[0.02,0.101],[0.03,0.106],[0.04,0.103],[0.06,0.110],[0.08,0.112],[0.10,0.123],[0.12,0.128],[0.14,0.131],[0.16,0.134],[0.18,0.120],[0.20,0.122],[0.22,0.121],[0.24,0.123],[0.26,0.122],[0.28,0.124],[0.30,0.122],[0.32,0.121]] },
  { emb: 28, pts: [[0.01,0.145],[0.02,0.150],[0.05,0.182],[0.06,0.187]] },
  { emb: 52, pts: [[0.07,0.214],[0.09,0.228],[0.11,0.240],[0.13,0.252],[0.15,0.262],[0.17,0.272],[0.19,0.282],[0.21,0.292],[0.23,0.300],[0.25,0.306]] },
  { emb: 28, pts: [[0.50,0.440],[0.52,0.440],[0.54,0.439],[0.56,0.439],[0.58,0.438],[0.60,0.438],[0.62,0.437],[0.64,0.437],[0.66,0.436],[0.68,0.436],[0.70,0.435],[0.72,0.435],[0.74,0.434],[0.76,0.434],[0.78,0.433],[0.80,0.433],[0.82,0.432],[0.84,0.432],[0.86,0.432],[0.88,0.431],[0.90,0.431],[0.92,0.431],[0.94,0.430],[0.96,0.430],[0.98,0.430],[1.00,0.430],[1.02,0.429],[1.04,0.429],[1.06,0.430]] },
  { emb: 52, pts: [[0.68,0.388],[0.70,0.390],[0.72,0.389],[0.74,0.391],[0.76,0.390],[0.78,0.389],[0.80,0.391],[0.82,0.392],[0.84,0.393],[0.86,0.394],[0.88,0.395],[0.90,0.396],[0.92,0.394],[0.94,0.393],[0.96,0.392],[0.98,0.390],[1.00,0.388],[1.02,0.386],[1.04,0.384],[1.06,0.381],[1.08,0.378],[1.10,0.375],[1.12,0.371],[1.14,0.368],[1.16,0.366],[1.18,0.364],[1.20,0.363],[1.22,0.364],[1.24,0.363]] },
  { emb: 98, pts: [[0.77,0.113],[0.79,0.117],[0.81,0.121],[0.83,0.124],[0.85,0.126],[0.87,0.127],[0.89,0.124],[0.91,0.127],[0.93,0.126],[0.95,0.128],[0.97,0.125],[0.99,0.128],[1.01,0.129],[1.03,0.127],[1.05,0.124],[1.07,0.122],[1.09,0.120],[1.11,0.118],[1.13,0.119],[1.15,0.116],[1.17,0.113],[1.19,0.110],[1.21,0.108],[1.23,0.106],[1.25,0.110],[1.27,0.112],[1.29,0.115],[1.31,0.117],[1.33,0.118]] },
  { emb: 28, pts: [[1.51,0.481],[1.53,0.479],[1.55,0.477],[1.57,0.476],[1.59,0.474],[1.61,0.472],[1.63,0.470],[1.65,0.468],[1.67,0.466],[1.69,0.464],[1.71,0.461],[1.73,0.458],[1.75,0.455],[1.77,0.451],[1.79,0.447],[1.81,0.443],[1.83,0.438],[1.85,0.434],[1.87,0.429],[1.89,0.424],[1.91,0.419],[1.93,0.415],[1.95,0.410],[1.97,0.406],[1.99,0.402],[2.01,0.399],[2.03,0.397],[2.05,0.396]] },
  { emb: 52, pts: [[1.68,0.370],[1.70,0.373],[1.72,0.375],[1.74,0.374],[1.76,0.373],[1.78,0.374],[1.80,0.372],[1.82,0.371],[1.84,0.370],[1.86,0.368],[1.88,0.366],[1.90,0.363],[1.92,0.360],[1.94,0.357],[1.96,0.354],[1.98,0.350],[2.00,0.346],[2.02,0.342],[2.04,0.338],[2.06,0.334],[2.08,0.330],[2.10,0.326],[2.12,0.322],[2.14,0.319],[2.16,0.316],[2.18,0.314],[2.20,0.315],[2.22,0.313]] },
  { emb: 98, pts: [[1.76,0.128],[1.78,0.134],[1.80,0.137],[1.82,0.135],[1.84,0.132],[1.86,0.134],[1.88,0.130],[1.90,0.128],[1.92,0.126],[1.94,0.124],[1.96,0.128],[1.98,0.130],[2.00,0.132],[2.02,0.134],[2.04,0.136],[2.06,0.128],[2.08,0.124],[2.10,0.126],[2.12,0.122],[2.14,0.120],[2.16,0.121],[2.18,0.117],[2.20,0.115],[2.22,0.114],[2.24,0.112],[2.26,0.111],[2.28,0.110]] },
  { emb: 28, pts: [[2.51,0.470],[2.53,0.468],[2.55,0.466],[2.57,0.464],[2.59,0.462],[2.61,0.460],[2.63,0.458],[2.65,0.456],[2.67,0.454],[2.69,0.452],[2.71,0.450],[2.73,0.448],[2.75,0.446],[2.77,0.444],[2.79,0.441],[2.81,0.439],[2.83,0.437],[2.85,0.435],[2.87,0.433],[2.89,0.430],[2.91,0.428],[2.93,0.426],[2.95,0.423],[2.97,0.421],[2.99,0.418],[3.01,0.416],[3.03,0.414],[3.05,0.412],[3.07,0.410]] },
  { emb: 52, pts: [[2.69,0.362],[2.71,0.366],[2.73,0.360],[2.75,0.356],[2.77,0.353],[2.79,0.350],[2.81,0.349],[2.83,0.348],[2.85,0.347],[2.87,0.346],[2.89,0.345],[2.91,0.344],[2.93,0.343],[2.95,0.342],[2.97,0.340],[2.99,0.338],[3.01,0.337],[3.03,0.335],[3.05,0.333],[3.07,0.331],[3.09,0.329],[3.11,0.327],[3.13,0.325],[3.15,0.322],[3.17,0.320],[3.19,0.318],[3.21,0.317],[3.23,0.320],[3.25,0.322]] },
  { emb: 98, pts: [[2.76,0.148],[2.78,0.152],[2.80,0.150],[2.82,0.157],[2.84,0.160],[2.86,0.158],[2.88,0.163],[2.90,0.160],[2.92,0.166],[2.94,0.164],[2.96,0.170],[2.98,0.168],[3.00,0.172],[3.02,0.175],[3.04,0.171],[3.06,0.178],[3.08,0.176],[3.10,0.174],[3.12,0.170],[3.14,0.166],[3.16,0.168],[3.18,0.160],[3.20,0.156],[3.22,0.162],[3.24,0.150],[3.26,0.155],[3.28,0.150],[3.30,0.152],[3.32,0.149],[3.34,0.151]] },
  { emb: 28, pts: [[3.49,0.482],[3.51,0.480],[3.53,0.479],[3.55,0.478],[3.57,0.477],[3.59,0.476],[3.61,0.475],[3.63,0.474],[3.65,0.473],[3.67,0.472],[3.69,0.471],[3.71,0.470],[3.73,0.468],[3.75,0.466],[3.77,0.464],[3.79,0.462],[3.81,0.460],[3.83,0.457],[3.85,0.455],[3.87,0.452],[3.89,0.449],[3.91,0.447],[3.93,0.444],[3.95,0.441],[3.97,0.439],[3.99,0.437],[4.01,0.436],[4.03,0.435],[4.05,0.435],[4.07,0.436]] },
  { emb: 52, pts: [[3.68,0.372],[3.70,0.376],[3.72,0.378],[3.74,0.380],[3.76,0.383],[3.78,0.385],[3.80,0.387],[3.82,0.384],[3.84,0.381],[3.86,0.382],[3.88,0.378],[3.90,0.376],[3.92,0.378],[3.94,0.374],[3.96,0.378],[3.98,0.380],[4.00,0.376],[4.02,0.373],[4.04,0.372],[4.06,0.369],[4.08,0.368],[4.10,0.365],[4.12,0.364],[4.14,0.361],[4.16,0.360],[4.18,0.356],[4.20,0.353],[4.22,0.351],[4.24,0.350]] },
  { emb: 98, pts: [[3.76,0.208],[3.78,0.214],[3.80,0.218],[3.82,0.222],[3.84,0.226],[3.86,0.228],[3.88,0.224],[3.90,0.220],[3.92,0.218],[3.94,0.222],[3.96,0.219],[3.98,0.224],[4.00,0.226],[4.02,0.222],[4.04,0.228],[4.06,0.234],[4.08,0.230],[4.10,0.222],[4.12,0.226],[4.14,0.220],[4.16,0.224],[4.18,0.218],[4.20,0.232],[4.22,0.214],[4.24,0.216],[4.26,0.210],[4.28,0.206],[4.30,0.204],[4.32,0.200]] },
  { emb: 28, pts: [[4.50,0.509],[4.52,0.506],[4.54,0.504],[4.56,0.502],[4.58,0.500],[4.60,0.499],[4.62,0.498],[4.64,0.497],[4.66,0.496],[4.68,0.495],[4.70,0.494],[4.72,0.493],[4.74,0.492],[4.76,0.491]] },
  { emb: 52, pts: [[4.69,0.425],[4.71,0.427],[4.73,0.428],[4.75,0.429],[4.77,0.429],[4.79,0.428],[4.81,0.427],[4.83,0.425],[4.85,0.424],[4.87,0.422],[4.89,0.421],[4.91,0.418],[4.93,0.416],[4.95,0.414],[4.97,0.417],[4.99,0.415],[5.01,0.413],[5.03,0.410],[5.05,0.412],[5.07,0.409],[5.09,0.406],[5.11,0.405],[5.13,0.403],[5.15,0.402],[5.17,0.400],[5.19,0.398],[5.21,0.397],[5.23,0.396],[5.25,0.395]] },
  { emb: 98, pts: [[4.77,0.256],[4.79,0.260],[4.81,0.262],[4.83,0.266],[4.85,0.268],[4.87,0.264],[4.89,0.270],[4.91,0.272],[4.93,0.268],[4.95,0.274],[4.97,0.270],[4.99,0.266],[5.01,0.268],[5.03,0.263],[5.05,0.265],[5.07,0.260],[5.09,0.258],[5.11,0.254],[5.13,0.252],[5.15,0.248],[5.17,0.246],[5.19,0.242],[5.21,0.238],[5.23,0.234],[5.25,0.228],[5.27,0.224],[5.29,0.220],[5.31,0.215],[5.32,0.212]] },
  { emb: 52, pts: [[5.69,0.477],[5.71,0.474],[5.73,0.471],[5.75,0.469],[5.77,0.467],[5.79,0.465],[5.81,0.464],[5.83,0.462],[5.85,0.461],[5.87,0.461],[5.89,0.460],[5.91,0.459],[5.93,0.458],[5.95,0.457],[5.97,0.455],[5.99,0.454],[6.01,0.452]] },
  { emb: 98, pts: [[5.78,0.276],[5.79,0.282],[5.81,0.286],[5.83,0.290],[5.85,0.292],[5.87,0.288],[5.89,0.286],[5.91,0.290],[5.93,0.284],[5.95,0.282],[5.97,0.280],[5.99,0.278],[6.00,0.276]] }
];

// ---- drawing ----
const svg = d3.select('#chart');
const ink = '#1a1a1a';
const fs = 21.5;

const embColor = d3.scaleSequential((t) => d3.interpolateTurbo(0.1 + 0.9 * t)).domain([0, 100]);

function flatten(traces) {
  return traces.flatMap((t) => t.pts.map(([d, v]) => ({ d, v, emb: t.emb })));
}

function panel(p) {
  const x = d3.scaleLinear().domain(p.xDomain).range([p.left, p.right]);
  const y = d3.scaleLinear().domain(p.yDomain).range([p.bottom, p.top]);
  const g = svg.append('g');

  const xAxis = g.append('g')
    .attr('transform', `translate(0,${p.bottom})`)
    .call(d3.axisBottom(x).tickValues(dayTicks).tickSize(-12)
      .tickFormat(p.xLabels ? d3.format('d') : () => ''));
  xAxis.selectAll('text')
    .attr('y', p.xLabelY).attr('dy', 0)
    .style('font-size', `${fs}px`);

  const yAxis = g.append('g')
    .attr('transform', `translate(${p.left},0)`)
    .call(d3.axisLeft(y).tickValues(p.yTicks).tickSize(-13)
      .tickFormat(p.yFormat));
  yAxis.selectAll('.tick line').attr('x1', 3);
  yAxis.selectAll('text')
    .attr('x', 0).attr('y', -29).attr('dy', '0.35em')
    .attr('text-anchor', 'middle')
    .attr('transform', 'rotate(-90)')
    .style('font-size', `${fs}px`);

  g.selectAll('.domain').remove();
  g.selectAll('.tick line').attr('stroke', ink).attr('stroke-width', 1.6);
  g.selectAll('.tick text').attr('fill', ink);

  g.append('g').selectAll('circle')
    .data(p.points)
    .enter().append('circle')
    .attr('cx', (d) => x(d.d))
    .attr('cy', (d) => y(d.v))
    .attr('r', p.r)
    .attr('fill', (d) => (d.emb === undefined ? '#000' : embColor(d.emb)));

  g.append('rect')
    .attr('x', p.left).attr('y', p.top)
    .attr('width', p.right - p.left).attr('height', p.bottom - p.top)
    .attr('fill', 'none').attr('stroke', ink).attr('stroke-width', 2);

  g.append('text')
    .attr('x', p.left + p.tagDx).attr('y', p.top + p.tagDy)
    .style('font-size', '25px')
    .text(p.tag);
  return { x, y };
}

const fmt1 = (d, i) => (i % 2 === 0 ? d3.format('.1f')(d) : '');
const transpPoints = [...transpDay0, ...transpDay1, ...transpDay2, ...transpDay3, ...transpDay4, ...transpDay5, ...transpDay6]
  .map(([d, v]) => ({ d, v }));

panel({ left: 102, right: 1179, top: 10, bottom: 401, xDomain: [-0.246, 6.435], yDomain: [-0.0283, 0.7264],
  yTicks: transpTicks, yFormat: fmt1, xLabels: true, xLabelY: 28, points: transpPoints, r: 2.2,
  tag: '(a)', tagDx: 21, tagDy: 37 });

panel({ left: 102, right: 587, top: 456, bottom: 793, xDomain: [-0.237, 6.247], yDomain: [-1.717, 17.377],
  yTicks: assimTicks, yFormat: d3.format('d'), xLabels: false, xLabelY: 30, points: flatten(upperAssim), r: 2.2,
  tag: '(b)', tagDx: 23, tagDy: 39 });

panel({ left: 102, right: 587, top: 793, bottom: 1129, xDomain: [-0.237, 6.247], yDomain: [-1.756, 17.297],
  yTicks: assimTicks, yFormat: d3.format('d'), xLabels: true, xLabelY: 37, points: flatten(lowerAssim), r: 2.2,
  tag: '(c)', tagDx: 23, tagDy: 39 });

panel({ left: 694, right: 1179, top: 456, bottom: 793, xDomain: [-0.245, 6.248], yDomain: [-0.0314, 0.7826],
  yTicks: psiiTicks, yFormat: fmt1, xLabels: false, xLabelY: 30, points: flatten(upperPSII), r: 2.1,
  tag: '(d)', tagDx: 23, tagDy: 39 });

panel({ left: 694, right: 1179, top: 793, bottom: 1129, xDomain: [-0.245, 6.248], yDomain: [-0.032, 0.779],
  yTicks: psiiTicks, yFormat: fmt1, xLabels: true, xLabelY: 37, points: flatten(lowerPSII), r: 2.1,
  tag: '(e)', tagDx: 23, tagDy: 39 });

// ---- axis titles ----
const t1 = svg.append('text').attr('transform', 'translate(37,205.5) rotate(-90)')
  .attr('text-anchor', 'middle').style('font-size', `${fs}px`);
t1.append('tspan').text('Transpiration (mmol s');
t1.append('tspan').attr('dy', -8).style('font-size', '15px').text('\u22121');
t1.append('tspan').attr('dy', 8).text(')');

const t2 = svg.append('text').attr('transform', 'translate(36,770) rotate(-90)')
  .attr('text-anchor', 'middle').style('font-size', `${fs}px`);
t2.append('tspan').text('Net CO');
t2.append('tspan').attr('dy', 5).style('font-size', '15px').text('2');
t2.append('tspan').attr('dy', -5).text(' assimilation (\u00b5mol m');
t2.append('tspan').attr('dy', -8).style('font-size', '15px').text('\u22122');
t2.append('tspan').attr('dy', 8).text(' s');
t2.append('tspan').attr('dy', -8).style('font-size', '15px').text('\u22121');
t2.append('tspan').attr('dy', 8).text(')');

svg.append('text').attr('transform', 'translate(632,792) rotate(-90)')
  .attr('text-anchor', 'middle').style('font-size', `${fs}px`).text('Photosystem II efficiency');

svg.append('text').attr('transform', 'translate(1214,624) rotate(-90)')
  .attr('text-anchor', 'middle').style('font-size', `${fs}px`).text('Upper leaves');
svg.append('text').attr('transform', 'translate(1214,961) rotate(-90)')
  .attr('text-anchor', 'middle').style('font-size', `${fs}px`).text('Lower leaves');

svg.append('text').attr('x', 640.5).attr('y', 1206)
  .attr('text-anchor', 'middle').style('font-size', `${fs}px`).text('Recovery time (days)');

// ---- embolism colour key ----
const key = svg.append('g');
const kx = d3.scaleLinear().domain([0, 100]).range([440, 561]);
const grad = svg.append('defs').append('linearGradient').attr('id', 'embGrad');
grad.selectAll('stop')
  .data(d3.range(0, 101, 5))
  .enter().append('stop')
  .attr('offset', (d) => `${d}%`)
  .attr('stop-color', (d) => embColor(d));
key.append('text').attr('x', 500).attr('y', 827)
  .attr('text-anchor', 'middle').style('font-size', `${fs}px`).text('Embolism (%)');
key.append('rect').attr('x', kx(0)).attr('y', 849).attr('width', kx(100) - kx(0)).attr('height', 22)
  .attr('fill', 'url(#embGrad)').attr('stroke', ink).attr('stroke-width', 1.8);
key.selectAll('.kt')
  .data([25, 50, 75])
  .enter().append('path')
  .attr('d', (d) => `M${kx(d)},849v5M${kx(d)},871v-5`)
  .attr('stroke', ink).attr('stroke-width', 1.6);
const keyAxis = key.append('g').attr('transform', 'translate(0,871)')
  .call(d3.axisBottom(kx).tickValues(embTicks).tickSize(0).tickFormat(d3.format('d')));
keyAxis.select('.domain').remove();
keyAxis.selectAll('text').attr('y', 37).attr('dy', 0).attr('fill', ink).style('font-size', `${fs}px`);
</script>
</body>
</html>
